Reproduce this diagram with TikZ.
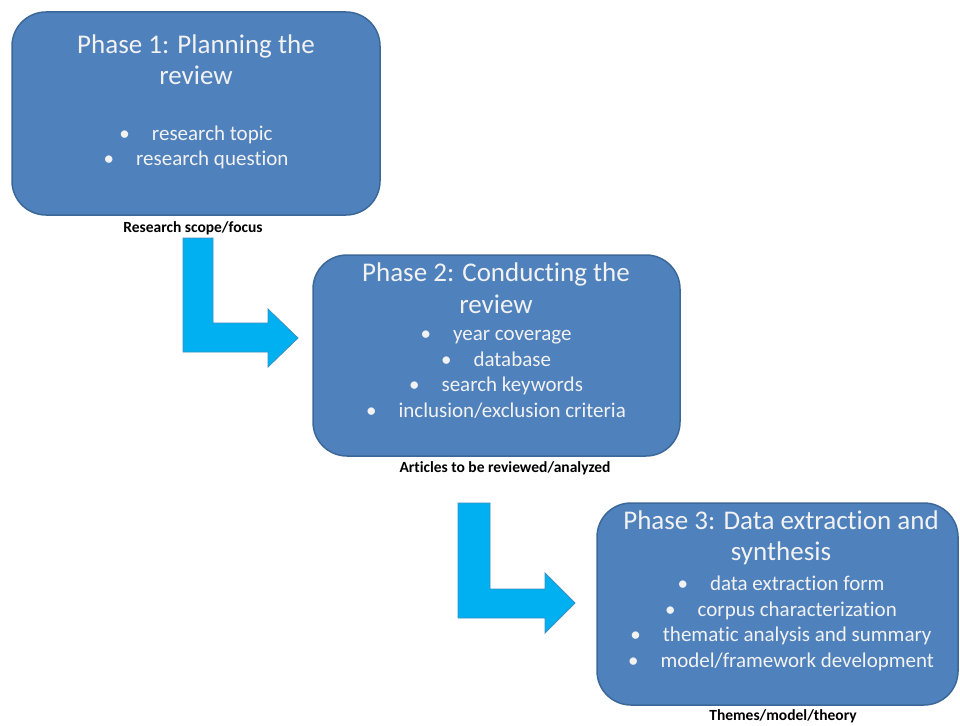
\documentclass[tikz,border=0pt]{standalone}
\usepackage{fontspec}
\setmainfont[Ligatures=NoCommon]{Carlito}
\definecolor{boxfill}{HTML}{4F81BD}
\definecolor{boxline}{HTML}{3B6898}
\definecolor{arrfill}{HTML}{00B0F0}
\definecolor{arrline}{HTML}{3A8FC0}
\definecolor{txt}{HTML}{F2F2F2}
\tikzset{
  phasebox/.style={draw=boxline, line width=1.5pt, fill=boxfill, rounded corners=34pt},
  titletext/.style={text=txt, font=\fontsize{27}{31.5}\selectfont, align=center, inner sep=0pt},
  bullettext/.style={text=txt, font=\fontsize{21}{25.5}\selectfont, align=center, inner sep=0pt},
  labeltext/.style={text=black, font=\bfseries\fontsize{15.5}{17}\selectfont, inner sep=0pt},
  bigarrow/.style={draw=arrline, line width=0.8pt, fill=arrfill}
}
\newcommand{\bul}{\textbullet\hspace{1.05em}}
\begin{document}
\begin{tikzpicture}[x=1pt,y=-1pt]
\useasboundingbox (0,0) rectangle (960,725);
% boxes
\draw[phasebox] (12,12) rectangle (380,215);
\draw[phasebox] (313,255) rectangle (680,456);
\draw[phasebox] (597,503) rectangle (958,705);
% box 1 text
\node[titletext] (t1) at (196,59.5) {Phase 1: Planning the\\review};
\node[bullettext] (b1) at (196,147.5) {\bul research topic\\\bul research question};
\node[labeltext] (l1) at (193,228) {Research scope/focus};
% box 2 text
\node[titletext] (t2) at (496,288) {Phase 2: Conducting the\\review};
\node[bullettext] (b2) at (496,374.5) {\bul year coverage\\\bul database\\\bul search keywords\\\bul inclusion/exclusion criteria};
\node[labeltext] (l2) at (505,468) {Articles to be reviewed/analyzed};
% box 3 text
\node[titletext] (t3) at (781,538) {Phase 3: Data extraction and\\synthesis};
\node[bullettext] (b3) at (781,623.5) {\bul data extraction form\\\bul corpus characterization\\\bul thematic analysis and summary\\\bul model/framework development};
\node[labeltext] (l3) at (783,716) {Themes/model/theory};
% arrows
\draw[bigarrow] (183,238) -- (213,238) -- (213,323) -- (268,323) -- (268,309) -- (298,338) -- (268,367) -- (268,352) -- (183,352) -- cycle;
\draw[bigarrow] (458,503) -- (490,503) -- (490,589) -- (545,589) -- (545,573) -- (575,603) -- (545,633) -- (545,618) -- (458,618) -- cycle;
\end{tikzpicture}
\end{document}
